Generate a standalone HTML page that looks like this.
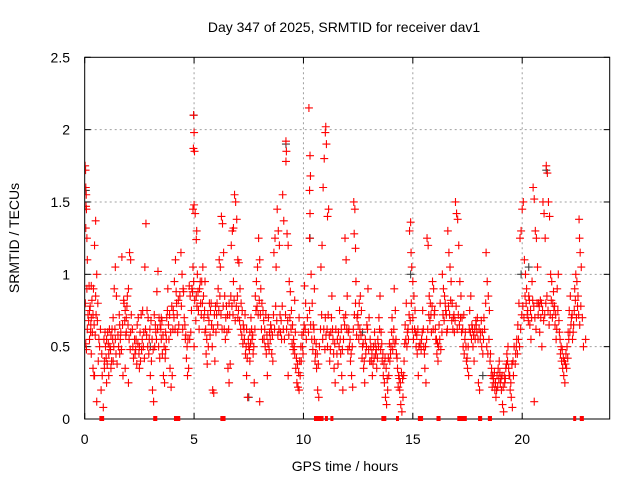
<!DOCTYPE html>
<html><head><meta charset="utf-8"><style>
html,body{margin:0;padding:0;background:#fff;}
svg text{font-family:"Liberation Sans",sans-serif;fill:#000;}
</style></head><body>
<svg id="chart" width="640" height="480" viewBox="0 0 640 480" xmlns="http://www.w3.org/2000/svg">
<rect width="640" height="480" fill="#fff"/>
<text x="344" y="32" font-size="14" text-anchor="middle">Day 347 of 2025, SRMTID for receiver dav1</text>
<text x="345" y="471" font-size="14" text-anchor="middle">GPS time / hours</text>
<text transform="translate(19,238) rotate(-90)" font-size="14" text-anchor="middle">SRMTID / TECUs</text>
<g id="grid"></g>
<g id="ticks"></g>
<defs><clipPath id="clip"><rect x="84.7" y="57.3" width="525" height="361.7"/></clipPath></defs>
<g id="marks" clip-path="url(#clip)"></g>
<rect x="84.7" y="57.3" width="525" height="361.7" fill="none" stroke="#000" stroke-width="1"/>
<g id="zeromarks"></g>
</svg>
<script>
const xTicks=[0,5,10,15,20];
const yTicks=[0,0.5,1,1.5,2,2.5];
const yTickLabels=["0","0.5","1","1.5","2","2.5"];
const redPoints=[
[0.02,1.75],[0.04,1.72],[0.05,1.6],[0.07,1.55],[0.06,1.47],[0.08,1.45],[0.05,1.32],[0.1,1.25],[0.12,1.1],[0.1,0.9],[0.03,0.8],[0.05,0.52],[0.08,0.48],[0.15,0.72],
[0.2,0.92],[0.25,0.78],[0.3,0.7],[0.28,0.65],[0.35,0.6],[0.22,0.55],[0.3,0.45],[0.38,0.35],[0.42,0.3],[0.45,0.3],[0.5,1.37],[0.45,1.2],[0.55,1.0],[0.5,0.85],[0.6,0.8],[0.52,0.72],[0.55,0.12],[0.62,0.4],[0.4,0.9],[0.3,0.92],[0.65,0.55],
[0.75,0.2],[0.85,0.08],[0.8,0.3],[0.9,0.4],[0.95,0.5],[1.0,0.55],[1.05,0.6],[0.9,0.35],[1.1,0.45],[1.15,0.5],[1.2,0.58],[1.25,0.62],[1.3,0.7],[1.35,0.9],[1.4,1.05],[1.45,0.85],[1.3,0.4],[1.2,0.35],[1.1,0.3],[1.0,0.25],[1.4,0.55],
[1.55,0.5],[1.6,0.45],[1.65,0.6],[1.7,1.12],[1.8,0.8],[1.85,0.75],[1.9,0.7],[1.95,0.85],[2.0,0.9],[2.05,1.15],[2.1,1.1],[1.75,0.3],[1.85,0.35],[2.0,0.25],[2.1,0.6],[2.2,0.5],[1.6,0.65],[1.9,0.6],
[2.3,0.45],[2.35,0.55],[2.4,0.65],[2.45,0.7],[2.5,0.5],[2.55,0.4],[2.6,0.48],[2.7,0.6],[2.75,1.05],[2.8,1.35],[2.85,0.75],[2.9,0.7],[2.95,0.55],[3.0,0.3],[3.05,0.4],[3.1,0.2],[3.15,0.12],[3.2,0.5],[3.25,0.6],[3.3,0.88],[3.35,1.02],[2.5,0.35],[2.65,0.75],
[3.4,0.7],[3.45,0.65],[3.5,0.55],[3.55,0.45],[3.6,0.3],[3.65,0.25],[3.7,0.6],[3.75,0.7],[3.8,0.9],[3.85,0.55],[3.9,0.35],[3.95,0.22],[4.0,0.3],[4.05,0.75],[4.1,0.95],[4.15,1.1],[4.2,0.8],[4.25,0.6],[4.3,0.65],[3.5,0.7],[3.7,0.48],
[4.4,1.15],[4.45,1.0],[4.5,0.9],[4.55,0.7],[4.6,0.55],[4.65,0.42],[4.7,0.3],[4.75,0.35],[4.8,0.55],[4.85,0.6],[4.9,0.9],[4.95,1.05],[4.98,2.1],[5.0,1.98],[4.97,1.87],[5.02,1.85],[5.0,1.48],[4.95,1.45],[5.05,1.42],[5.1,1.24],[5.12,1.3],[5.15,1.0],[5.1,0.85],[5.2,0.75],[5.25,0.9],[5.0,0.5],
[5.3,0.8],[5.35,0.95],[5.4,1.05],[5.45,0.7],[5.5,0.6],[5.55,0.45],[5.6,0.38],[5.65,0.5],[5.7,0.8],[5.75,0.75],[5.8,0.65],[5.85,0.2],[5.9,0.18],[5.95,0.4],[6.0,0.6],[6.05,0.8],[6.1,0.9],[6.15,1.1],[6.2,1.05],[6.25,1.4],[6.3,1.35],[6.35,1.15],[5.5,0.95],
[6.4,0.85],[6.45,0.7],[6.5,0.6],[6.55,0.35],[6.6,0.25],[6.65,0.38],[6.7,1.2],[6.75,1.3],[6.8,1.32],[6.85,1.55],[6.9,1.5],[6.95,1.38],[7.0,1.1],[7.05,1.08],[7.1,0.9],[7.15,0.8],[7.2,0.75],[7.25,0.65],[6.6,0.8],[6.8,0.95],[7.0,0.7],
[7.3,0.55],[7.35,0.45],[7.4,0.3],[7.45,0.15],[7.5,0.5],[7.55,0.6],[7.6,0.7],[7.65,0.55],[7.7,0.45],[7.75,0.25],[7.8,0.85],[7.85,0.95],[7.9,1.05],[7.95,1.25],[8.0,1.1],[8.05,0.9],[8.1,0.8],[8.15,0.75],[7.55,0.4],[7.4,0.62],[8.0,0.12],
[8.2,0.55],[8.25,0.5],[8.3,0.45],[8.35,0.3],[8.4,0.7],[8.45,0.6],[8.5,0.65],[8.55,0.45],[8.6,0.4],[8.65,1.15],[8.7,1.25],[8.75,1.05],[8.8,1.45],[8.85,1.3],[8.9,1.2],[8.95,0.6],[9.0,0.55],[9.05,1.55],[9.1,1.37],[9.2,1.92],[9.22,1.85],[9.2,1.78],[9.25,1.28],[9.3,1.2],[9.35,0.95],
[9.4,0.88],[9.45,0.75],[9.5,0.65],[9.55,0.55],[9.6,0.45],[9.65,0.35],[9.7,0.25],[9.75,0.22],[9.8,0.2],[9.85,0.3],[9.9,0.4],[9.95,0.5],[10.0,0.6],[10.05,0.92],[10.1,0.8],[9.6,0.82],[9.8,0.7],[9.3,0.3],
[10.25,2.15],[10.3,1.82],[10.32,1.68],[10.28,1.58],[10.3,1.42],[10.28,1.25],[10.35,1.0],[10.4,0.8],[10.45,0.65],[10.5,0.55],[10.55,0.45],[10.6,0.35],[10.65,0.2],[10.7,0.15],[10.5,0.9],
[10.8,1.05],[10.85,1.2],[10.9,1.6],[10.95,1.8],[11.0,1.98],[11.02,2.02],[11.05,1.9],[11.1,1.4],[11.15,1.45],[11.0,0.7],[11.1,0.5],[11.2,0.4],[11.25,0.6],[11.3,0.85],[11.35,0.55],[11.4,0.35],[11.45,0.25],
[11.55,0.55],[11.6,0.6],[11.65,0.75],[11.7,0.45],[11.75,0.3],[11.8,0.2],[11.85,0.7],[11.9,1.25],[11.95,1.1],[12.0,0.85],[12.05,0.6],[12.1,0.5],[12.15,0.4],[12.2,0.3],[12.25,0.22],[12.3,1.5],[12.35,1.45],[12.32,1.28],[12.38,1.18],[12.4,0.95],[12.45,0.7],
[12.5,0.65],[12.55,0.8],[12.6,0.85],[12.65,0.75],[12.7,0.5],[12.75,0.35],[12.8,0.25],[12.85,0.45],[12.9,0.65],[12.95,0.9],[13.0,0.7],[13.05,0.55],[13.1,0.4],[13.15,0.3],[13.2,0.5],[13.25,0.6],[13.3,0.45],[13.35,0.35],
[13.4,0.55],[13.45,0.7],[13.5,0.85],[13.55,0.6],[13.6,0.4],[13.65,0.3],[13.7,0.25],[13.75,0.15],[13.8,0.1],[13.85,0.2],[13.9,0.3],[13.95,0.4],[14.0,0.5],[14.05,0.7],[14.1,0.55],[14.15,0.9],[14.2,0.75],[14.25,0.45],[14.3,0.35],[14.35,0.3],
[14.4,0.2],[14.45,0.1],[14.5,0.05],[14.55,0.15],[14.6,0.4],[14.65,0.65],[14.7,0.8],[14.75,0.6],[14.8,0.55],[14.85,1.3],[14.9,1.36],[14.92,1.15],[14.95,1.05],[15.0,0.95],[15.05,0.85],[15.1,0.75],[15.15,0.5],[15.2,0.45],[15.25,0.3],[15.0,0.7],
[15.4,0.55],[15.45,0.75],[15.5,0.5],[15.55,0.35],[15.6,0.25],[15.65,1.25],[15.7,1.2],[15.75,0.85],[15.8,0.8],[15.85,0.6],[15.9,0.95],[15.95,0.9],[16.0,0.75],[16.05,0.55],[16.1,0.45],[16.15,0.4],[16.2,0.65],[16.25,0.8],
[16.35,1.0],[16.4,0.9],[16.45,0.85],[16.5,0.75],[16.55,0.6],[16.6,1.3],[16.65,1.15],[16.7,1.05],[16.75,0.95],[16.8,0.8],[16.85,0.7],[16.9,0.6],[16.95,1.5],[17.0,1.42],[17.05,1.38],[17.1,1.2],[17.15,0.95],[17.2,0.85],[17.25,0.7],[17.3,0.5],[17.35,0.45],
[17.4,0.6],[17.45,0.4],[17.5,0.35],[17.55,0.3],[17.6,0.75],[17.65,0.85],[17.7,0.65],[17.75,0.5],[17.8,0.4],[17.85,0.55],[17.9,0.65],[17.95,0.7],[18.0,0.25],[18.05,0.2],[18.1,0.6],[18.15,0.5],[18.2,0.45],[18.25,0.7],[18.35,1.15],[18.4,0.95],[18.45,0.85],[18.5,0.75],
[18.55,0.45],[18.6,0.35],[18.65,0.3],[18.7,0.25],[18.75,0.2],[18.8,0.15],[18.85,0.3],[18.9,0.35],[18.95,0.4],[19.0,0.25],[19.05,0.2],[19.1,0.1],[19.15,0.05],[19.2,0.25],[19.25,0.35],[19.3,0.45],[19.35,0.5],[19.4,0.3],[19.45,0.2],[19.5,0.15],[19.55,0.08],[19.6,0.3],
[19.7,0.45],[19.75,0.55],[19.8,0.65],[19.85,0.8],[19.9,1.25],[19.95,1.3],[20.0,1.45],[20.05,1.5],[20.1,1.1],[20.15,1.0],[20.2,0.9],[20.25,0.75],[20.3,0.85],[20.35,0.65],[20.4,0.55],[20.45,0.95],[20.5,1.6],[20.55,1.52],[20.6,1.3],[20.65,1.25],[20.7,1.05],[20.75,0.8],[20.8,0.6],[20.55,0.12],
[20.85,0.7],[20.9,0.5],[20.95,1.5],[21.0,1.42],[21.05,1.25],[21.1,1.75],[21.15,1.7],[21.2,1.5],[21.25,1.4],[21.3,1.0],[21.35,0.95],[21.4,0.8],[21.45,0.75],[21.5,0.65],[21.55,0.55],[21.6,0.9],[21.65,1.0],[21.7,0.6],[21.75,0.45],[21.8,0.4],[21.85,0.35],
[21.9,0.3],[21.95,0.25],[22.0,0.45],[22.05,0.5],[22.1,0.6],[22.15,0.75],[22.2,0.85],[22.25,0.7],[22.3,0.55],[22.35,0.65],[22.4,0.9],[22.45,1.0],[22.5,0.95],[22.55,0.85],[22.6,1.38],[22.62,1.25],[22.65,1.15],[22.7,1.05],[22.75,0.7],[22.8,0.5],[22.9,0.55]
];
const bandPoints=[
[0.12,0.62],[0.18,0.68],[0.22,0.75],[0.27,0.6],[0.33,0.82],[0.38,0.72],[0.43,0.65],[0.48,0.58],[0.58,0.68],[0.68,0.5],[0.72,0.62],[0.78,0.45],[0.88,0.55],[0.93,0.6],[0.98,0.42],[1.03,0.38],[1.08,0.52],[1.13,0.62],[1.18,0.48],[1.23,0.4],[1.28,0.55],[1.33,0.5],[1.38,0.62],[1.43,0.45],[1.48,0.38],[1.52,0.58],[1.58,0.72],[1.63,0.55],[1.68,0.48],[1.73,0.65],[1.78,0.82],[1.83,0.68],[1.88,0.58],[1.93,0.78],[1.98,0.65],[2.03,0.55],[2.08,0.48],[2.13,0.72],[2.18,0.62],[2.23,0.42],[2.28,0.55],[2.33,0.48],[2.38,0.38],[2.43,0.52],[2.48,0.45],[2.53,0.6],[2.58,0.72],[2.63,0.55],[2.68,0.5],[2.73,0.42],[2.78,0.62],[2.83,0.58],[2.88,0.5],[2.93,0.45],[2.98,0.62],[3.03,0.68],[3.08,0.55],[3.13,0.48],[3.18,0.72],[3.23,0.65],[3.28,0.55],[3.33,0.62],[3.38,0.5],[3.43,0.42],[3.48,0.62],[3.53,0.68],[3.58,0.58],[3.63,0.5],[3.68,0.42],[3.73,0.55],[3.78,0.75],[3.83,0.65],[3.88,0.72],[3.93,0.6],[3.98,0.78],[4.03,0.62],[4.08,0.7],[4.13,0.62],[4.18,0.88],[4.23,0.72],[4.28,0.82],
[4.35,0.85],[4.42,0.78],[4.48,0.62],[4.52,0.88],[4.58,0.65],[4.62,0.58],[4.68,0.5],[4.72,0.55],[4.78,0.92],[4.82,0.85],[4.88,0.75],[4.93,0.88],[4.98,0.95],[5.03,0.82],[5.08,0.68],[5.13,0.78],[5.18,0.88],[5.23,0.62],[5.28,0.95],[5.33,0.72],[5.38,0.8],[5.43,0.85],[5.48,0.75],[5.53,0.62],[5.58,0.55],[5.63,0.72],[5.68,0.68],[5.73,0.58],[5.78,0.8],[5.83,0.5],[5.88,0.62],[5.93,0.72],[5.98,0.78],[6.03,0.72],[6.08,0.65],[6.13,0.75],[6.18,0.85],[6.23,0.72],[6.28,0.62],[6.33,0.78],[6.38,0.62],[6.43,0.55],[6.48,0.78],[6.53,0.72],[6.58,0.62],[6.63,0.72],[6.68,0.85],[6.73,0.78],[6.78,0.72],[6.83,0.82],[6.88,0.68],[6.93,0.78],[6.98,0.85],[7.03,0.75],[7.08,0.68],[7.13,0.62],[7.18,0.58],[7.23,0.52],[7.28,0.62],
[7.33,0.72],[7.38,0.5],[7.43,0.42],[7.48,0.55],[7.53,0.48],[7.58,0.52],[7.63,0.62],[7.68,0.58],[7.73,0.5],[7.78,0.62],[7.83,0.75],[7.88,0.78],[7.93,0.72],[7.98,0.82],[8.03,0.72],[8.08,0.62],[8.13,0.55],[8.18,0.68],[8.23,0.62],[8.28,0.72],[8.33,0.58],[8.38,0.52],[8.43,0.48],[8.48,0.55],[8.53,0.62],[8.58,0.58],[8.63,0.72],[8.68,0.62],[8.73,0.78],[8.78,0.68],[8.83,0.58],[8.88,0.62],[8.93,0.72],[8.98,0.68],[9.03,0.78],[9.08,0.62],[9.13,0.55],[9.18,0.72],[9.23,0.62],[9.28,0.68],[9.33,0.58],[9.38,0.7],[9.43,0.62],[9.48,0.52],[9.53,0.48],[9.58,0.5],[9.63,0.6],[9.68,0.42],[9.73,0.38],[9.78,0.32],[9.83,0.4],[9.88,0.5],[9.93,0.58],[9.98,0.45],[10.03,0.65],[10.08,0.62],[10.13,0.55],[10.18,0.7],[10.23,0.6],
[10.28,0.75],[10.33,0.65],[10.38,0.55],[10.43,0.48],[10.48,0.62],[10.53,0.4],[10.58,0.52],[10.63,0.45],[10.68,0.38],[10.73,0.5],[10.78,0.62],[10.83,0.72],[10.88,0.55],[10.93,0.62],[10.98,0.48],[11.03,0.58],[11.08,0.62],[11.13,0.72],[11.18,0.58],[11.23,0.48],[11.28,0.7],[11.33,0.62],[11.38,0.45],[11.43,0.52],[11.48,0.62],[11.53,0.45],[11.58,0.38],[11.63,0.5],[11.68,0.55],[11.73,0.62],[11.78,0.48],[11.83,0.55],[11.88,0.65],[11.93,0.72],[11.98,0.62],[12.03,0.48],[12.08,0.62],[12.13,0.55],[12.18,0.45],[12.23,0.5],[12.28,0.62],[12.33,0.72],[12.38,0.8],[12.43,0.58],[12.48,0.72],[12.53,0.55],[12.58,0.62],[12.63,0.58],[12.68,0.42],[12.73,0.52],[12.78,0.4],[12.83,0.55],[12.88,0.5],[12.93,0.62],[12.98,0.48],[13.03,0.4],[13.08,0.5],[13.13,0.45],[13.18,0.38],[13.23,0.42],[13.28,0.52],[13.33,0.48],[13.38,0.42],[13.43,0.5],[13.48,0.62],[13.53,0.48],[13.58,0.52],[13.63,0.45],[13.68,0.38],[13.73,0.42],[13.78,0.35],[13.83,0.28],[13.88,0.42],[13.93,0.52],[13.98,0.45],[14.03,0.6],[14.08,0.48],[14.13,0.62],[14.18,0.52],[14.23,0.55],[14.28,0.42],
[14.33,0.22],[14.38,0.28],[14.43,0.25],[14.48,0.32],[14.53,0.28],[14.58,0.3],[14.63,0.52],[14.68,0.55],[14.73,0.5],[14.78,0.62],[14.83,0.72],[14.88,0.68],[14.93,0.8],[14.98,0.62],[15.03,0.55],[15.08,0.62],[15.13,0.6],[15.18,0.58],[15.23,0.62],[15.28,0.5],[15.33,0.52],[15.38,0.48],[15.43,0.6],[15.48,0.62],[15.53,0.45],[15.58,0.5],[15.63,0.55],[15.68,0.62],[15.73,0.72],[15.78,0.68],[15.83,0.72],[15.88,0.78],[15.93,0.62],[15.98,0.72],[16.03,0.62],[16.08,0.55],[16.13,0.52],[16.18,0.5],[16.23,0.55],[16.28,0.48],[16.33,0.6],[16.38,0.72],[16.43,0.68],[16.48,0.8],[16.53,0.72],[16.58,0.62],[16.63,0.78],[16.68,0.72],[16.73,0.82],[16.78,0.68],[16.83,0.62],[16.88,0.72],[16.93,0.68],[16.98,0.78],[17.03,0.62],[17.08,0.72],[17.13,0.65],[17.18,0.7],[17.23,0.6],[17.28,0.62],[17.33,0.72],[17.38,0.55],[17.43,0.5],[17.48,0.42],[17.53,0.5],[17.58,0.62],[17.63,0.6],[17.68,0.55],[17.73,0.62],[17.78,0.58],[17.83,0.62],[17.88,0.68],[17.93,0.6],[17.98,0.55],[18.03,0.62],[18.08,0.55],[18.13,0.68],[18.18,0.6],[18.23,0.55],[18.28,0.62],[18.33,0.8],[18.38,0.5],[18.43,0.45],[18.48,0.55],
[18.53,0.4],[18.58,0.3],[18.63,0.22],[18.68,0.28],[18.73,0.32],[18.78,0.25],[18.83,0.2],[18.88,0.22],[18.93,0.28],[18.98,0.32],[19.03,0.28],[19.08,0.3],[19.13,0.22],[19.18,0.3],[19.23,0.28],[19.28,0.38],[19.33,0.4],[19.38,0.35],[19.43,0.3],[19.48,0.25],[19.53,0.38],[19.58,0.4],[19.63,0.5],[19.68,0.38],[19.73,0.5],[19.78,0.45],[19.83,0.55],[19.88,0.5],[19.93,0.62],[19.98,0.72],[20.03,0.78],[20.08,0.7],[20.13,0.85],[20.18,0.8],[20.23,0.72],[20.28,0.68],[20.33,0.82],[20.38,0.75],[20.43,0.7],[20.48,0.82],[20.53,0.78],[20.58,0.7],[20.63,0.62],[20.68,0.8],[20.73,0.72],[20.78,0.78],[20.83,0.82],[20.88,0.8],[20.93,0.75],[20.98,0.68],[21.03,0.72],[21.08,0.8],[21.13,0.85],[21.18,0.75],[21.23,0.65],[21.28,0.72],[21.33,0.82],[21.38,0.7],[21.43,0.88],[21.48,0.78],[21.53,0.72],[21.58,0.62],[21.63,0.75],[21.68,0.68],[21.73,0.55],[21.78,0.5],[21.83,0.48],[21.88,0.42],[21.93,0.4],[21.98,0.38],[22.03,0.35],[22.08,0.42],[22.13,0.55],[22.18,0.6],[22.23,0.65],[22.28,0.72],[22.33,0.6],[22.38,0.75],[22.43,0.82],[22.48,0.7],[22.53,0.78],[22.58,0.72],[22.63,0.65],[22.68,0.78]
];
const grayPoints=[[0.05,1.58],[4.98,2.1],[9.2,1.9],[10.3,1.25],[14.9,1.0],[21.1,1.72],[19.95,1.0],[20.3,1.05],[7.5,0.15],[18.2,0.3],[12.7,0.6],[3.0,0.5]];
const zeroTimes=[0.74,0.78,0.82,3.2,3.25,4.15,4.2,4.25,4.3,6.27,6.32,6.37,10.55,10.6,10.7,10.8,10.85,11.05,11.3,13.63,13.68,13.72,14.3,15.3,15.35,15.4,16.15,16.2,17.1,17.2,17.3,17.4,18.05,18.1,18.5,18.55,22.4,22.7,22.75];

const X0=84.7,X1=609.7,Y0=419,Y1=57.3;
function sx(h){return X0+h/24*(X1-X0);}
function sy(v){return Y0-v/2.5*(Y0-Y1);}
const NS='http://www.w3.org/2000/svg';
const grid=document.getElementById('grid'),ticks=document.getElementById('ticks'),marks=document.getElementById('marks'),zm=document.getElementById('zeromarks');
function mk(tag,attrs,parent){const e=document.createElementNS(NS,tag);for(const k in attrs)e.setAttribute(k,attrs[k]);parent.appendChild(e);return e;}
xTicks.forEach(t=>{
  const x=sx(t);
  if(t>0){const g=mk('line',{x1:x,x2:x,y1:Y1,y2:Y0,stroke:'#a0a0a0','stroke-dasharray':'2,3'},grid);
  
  }
  mk('line',{x1:x,x2:x,y1:Y0,y2:Y0-6,stroke:'#000'},ticks);
  mk('line',{x1:x,x2:x,y1:Y1,y2:Y1+6,stroke:'#000'},ticks);
  const l=mk('text',{x:x,y:444,'font-size':14,'text-anchor':'middle'},ticks);l.textContent=t;
  
  
});
yTicks.forEach((t,i)=>{
  const y=sy(t);
  if(t>0&&t<2.5){const g=mk('line',{x1:X0,x2:X1,y1:y,y2:y,stroke:'#a0a0a0','stroke-dasharray':'2,3'},grid);
  
  }
  mk('line',{x1:X0,x2:X0+6,y1:y,y2:y,stroke:'#000'},ticks);
  mk('line',{x1:X1,x2:X1-6,y1:y,y2:y,stroke:'#000'},ticks);
  const l=mk('text',{x:70,y:y+5,'font-size':14,'text-anchor':'end'},ticks);l.textContent=yTickLabels[i];
  
  
});
function plus(h,v,col,name,parent){
  const x=sx(h),y=sy(v);
  const p=mk('path',{d:`M${x-4} ${y}H${x+4}M${x} ${y-4}V${y+4}`,stroke:col,'stroke-width':1.1,fill:'none'},parent);
  
  
}
grayPoints.forEach(p=>plus(p[0],p[1],'#404040','gray-point',marks));
bandPoints.forEach(p=>plus(p[0],p[1],'#ff0000','red-point',marks));
redPoints.forEach(p=>plus(p[0],p[1],'#ff0000','red-point',marks));
zeroTimes.forEach(t=>{
  const x=sx(t);
  const r=mk('rect',{x:x-1.5,y:Y0-3,width:3,height:5,fill:'#ff0000'},zm);
  
  
});
</script>
</body></html>
